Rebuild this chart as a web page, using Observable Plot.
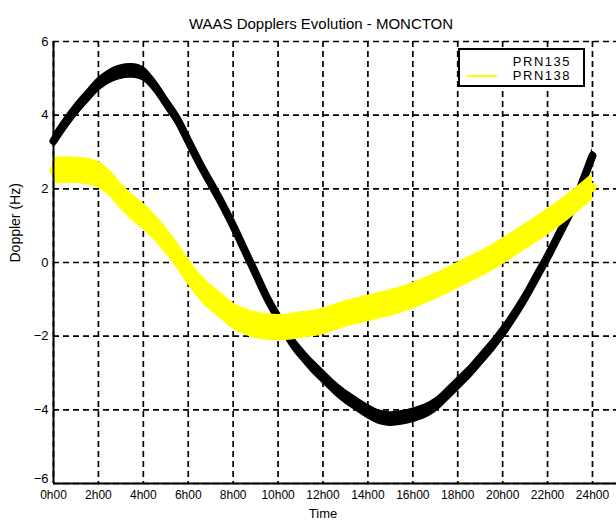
<!DOCTYPE html>
<html>
<head>
<meta charset="utf-8">
<script src="https://cdn.jsdelivr.net/npm/d3@7"></script>
<script src="https://cdn.jsdelivr.net/npm/@observablehq/plot@0.6"></script>
<style>
  html, body { margin: 0; padding: 0; background: #fff; }
  #wrap { position: relative; width: 616px; height: 525px; overflow: hidden; font-family: "Liberation Sans", "DejaVu Sans", sans-serif; }
  #legend { position: absolute; left: 458px; top: 48px; width: 123px; height: 35px; border: 2px solid #000; background: #fff; font-size: 13px; letter-spacing: 1.5px; }
  #legend .row { position: absolute; right: 12px; height: 13px; line-height: 13px; }
  #legend .sw { position: absolute; left: 7px; width: 30px; height: 2px; }
</style>
</head>
<body>
<div id="wrap">
  <div id="legend">
    <div class="row" style="top:5px;">PRN135</div>
    <div class="row" style="top:19px;">PRN138</div>
    <div class="sw" style="top:25px;background:#ffff00;"></div>
  </div>
</div>
<script>
const title = "WAAS Dopplers Evolution - MONCTON";
const xLabel = "Time";
const yLabel = "Doppler (Hz)";
const tickHours = [0, 2, 4, 6, 8, 10, 12, 14, 16, 18, 20, 22, 24];
const tickLabels = ["0h00","2h00","4h00","6h00","8h00","10h00","12h00","14h00","16h00","18h00","20h00","22h00","24h00"];
const yTicks = [-6, -4, -2, 0, 2, 4, 6];

const prn135Hours = [0,0.5,1,1.5,2,2.5,3,3.5,4,4.5,5,5.5,6,6.5,7,7.5,8,8.5,9,9.5,10,10.5,11,11.5,12,12.5,13,13.5,14,14.5,15,15.5,16,16.5,17,17.5,18,18.5,19,19.5,20,20.5,21,21.5,22,22.5,23,23.5,24];
const prn135Doppler = [3.3,3.75,4.15,4.5,4.83,5.05,5.17,5.2,5.12,4.8,4.35,3.9,3.3,2.7,2.15,1.6,1.0,0.35,-0.3,-0.95,-1.5,-2.05,-2.45,-2.8,-3.1,-3.4,-3.65,-3.85,-4.05,-4.2,-4.25,-4.22,-4.15,-4.05,-3.88,-3.6,-3.3,-3.0,-2.65,-2.3,-1.9,-1.45,-0.95,-0.4,0.15,0.75,1.35,2.1,2.9];

const prn138Hours = [0,1,1.5,2,2.5,3,3.5,4,4.5,5,5.5,6,6.5,7,7.5,8,8.5,9,9.5,10,10.5,11,12,13,14,15,16,17,18,19,20,21,22,23,24];
const prn138Doppler = [2.5,2.5,2.47,2.38,2.15,1.8,1.5,1.25,0.95,0.6,0.2,-0.25,-0.65,-0.95,-1.2,-1.45,-1.6,-1.7,-1.75,-1.77,-1.75,-1.7,-1.6,-1.4,-1.25,-1.1,-0.9,-0.65,-0.35,-0.05,0.3,0.7,1.1,1.55,2.05];

const d135 = prn135Hours.map((h, i) => ({h, v: prn135Doppler[i]}));
const d138 = prn138Hours.map((h, i) => ({h, v: prn138Doppler[i]}));

const font = "'Liberation Sans', 'DejaVu Sans', sans-serif";
const chart = Plot.plot({
  width: 616,
  height: 525,
  marginLeft: 53,
  marginRight: 0,
  marginTop: 41,
  marginBottom: 42,
  style: { fontFamily: font, fontSize: "12px", color: "#000", background: "#fff" },
  x: { domain: [0, 25.07], range: [53, 616] },
  y: { domain: [-6, 6] },
  marks: [
    Plot.gridX(tickHours, { stroke: "#000", strokeOpacity: 1, strokeWidth: 1.7, strokeDasharray: "6,4" }),
    Plot.gridY(yTicks, { stroke: "#000", strokeOpacity: 1, strokeWidth: 1.7, strokeDasharray: "6,4" }),
    Plot.areaY(d135, { x: "h", y1: d => d.v - 0.2, y2: d => d.v + 0.2, fill: "#000", curve: "catmull-rom" }),
    Plot.line(d135, { x: "h", y: "v", stroke: "#000", strokeWidth: 8, curve: "catmull-rom" }),
    Plot.areaY(d138, { x: "h", y1: d => d.v - 0.36, y2: d => d.v + 0.36, fill: "#ffff00", curve: "catmull-rom" }),
    Plot.line(d138, { x: "h", y: "v", stroke: "#ffff00", strokeWidth: 8, curve: "catmull-rom" }),
    Plot.ruleX([0], { stroke: "#000", strokeWidth: 2 }),
    Plot.ruleY([-6], { stroke: "#000", strokeWidth: 2 }),
    Plot.axisX(tickHours, { tickFormat: d => tickLabels[tickHours.indexOf(d)], tickSize: 0, tickPadding: 7, label: null, fontSize: 12 }),
    Plot.axisY(yTicks.filter(d => d !== -6), { tickSize: 0, tickPadding: 5, label: null, fontSize: 13 }),
    Plot.text([-6], { x: 0, y: d => d, text: d => String(d).replace("-", "\u2212"), textAnchor: "end", dx: -5, dy: -5, fontSize: 13 }),
    Plot.text([xLabel], { frameAnchor: "bottom", dy: 34, dx: -12, fontSize: 13 }),
    Plot.text([yLabel], { frameAnchor: "left", dx: -38, rotate: -90, fontSize: 14 }),
    Plot.text([title], { frameAnchor: "top", dy: -23, dx: -14, fontSize: 15 })
  ]
});
document.getElementById("wrap").insertBefore(chart, document.getElementById("legend"));
</script>
</body>
</html>
